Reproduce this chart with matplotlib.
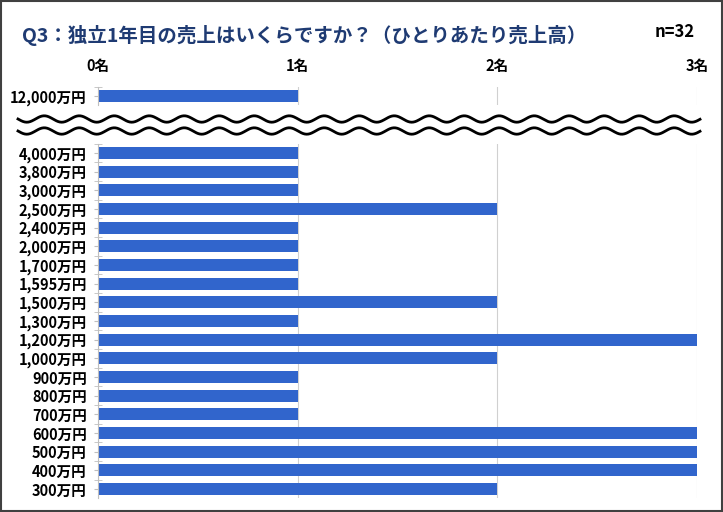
import matplotlib.pyplot as plt
import numpy as np
from matplotlib.patches import Rectangle

plt.rcParams['font.family'] = ['Noto Sans CJK JP', 'DejaVu Sans']

# Data (counts of respondents)
top_labels = ["12,000万円"]
top_counts = [1]

labels = ["4,000万円", "3,800万円", "3,000万円", "2,500万円", "2,400万円",
          "2,000万円", "1,700万円", "1,595万円", "1,500万円", "1,300万円",
          "1,200万円", "1,000万円", "900万円", "800万円", "700万円",
          "600万円", "500万円", "400万円", "300万円"]
counts = [1, 1, 1, 2, 1, 1, 1, 1, 2, 1, 3, 2, 1, 1, 1, 3, 3, 3, 2]

x_ticks = [0, 1, 2, 3]
x_ticklabels = ["0名", "1名", "2名", "3名"]

bar_color = "#3165CC"
grid_color = "#D0D0D0"

W, H = 723, 512
fig = plt.figure(figsize=(W / 100, H / 100), dpi=100)

# Outer frame around the figure
fig.patches.append(Rectangle((0.001, 0.002), 0.997, 0.996, transform=fig.transFigure,
                             fill=False, edgecolor="#404040", linewidth=1.5))

# Title and sample size
fig.text(22 / W, 1 - 35 / H, "Q3：独立1年目の売上はいくらですか？（ひとりあたり売上高）",
         fontsize=14, fontweight="bold", color="#1F3B73", va="center", ha="left")
fig.text(695 / W, 1 - 32 / H, "n=32", fontsize=12, fontweight="bold",
         color="black", va="center", ha="right")

x0, x1 = 98 / W, 697 / W
row = 18.67


def style_axis(ax, n):
    ax.set_xlim(0, 3)
    ax.set_ylim(n - 0.5, -0.5)
    for s in ["top", "right", "bottom"]:
        ax.spines[s].set_visible(False)
    ax.spines["left"].set_color("#BFBFBF")
    ax.set_xticks(x_ticks)
    ax.grid(axis="x", color=grid_color, linewidth=0.8)
    ax.set_axisbelow(True)
    ax.set_yticks(np.arange(n) - 0.5, minor=True)
    ax.tick_params(axis="y", which="minor", length=6, direction="inout", color="#BFBFBF")
    ax.tick_params(axis="y", which="major", length=3, color="#BFBFBF", pad=5)
    for t in ax.get_yticklabels():
        t.set_fontweight("bold")
        t.set_fontsize(10.5)


# Top axis: the outlier
top_b = 1 - (96 + row / 2) / H
ax_top = fig.add_axes([x0, top_b, x1 - x0, row / H])
ax_top.barh(np.arange(len(top_labels)), top_counts, height=0.6, color=bar_color)
ax_top.set_yticks(np.arange(len(top_labels)))
ax_top.set_yticklabels(top_labels)
style_axis(ax_top, len(top_labels))
ax_top.xaxis.tick_top()
ax_top.set_xticklabels(x_ticklabels, fontweight="bold", fontsize=10.5)
ax_top.tick_params(axis="x", length=0, pad=9)

# Main axis
n = len(labels)
main_top = 153 - row / 2
main_bot = 489 + row / 2
ax = fig.add_axes([x0, 1 - main_bot / H, x1 - x0, (main_bot - main_top) / H])
ax.barh(np.arange(n), counts, height=0.65, color=bar_color)
ax.set_yticks(np.arange(n))
ax.set_yticklabels(labels)
style_axis(ax, n)
ax.tick_params(axis="x", length=0, labelbottom=False)

# Wavy break lines
xs = np.linspace(18, 700, 800)
for yc in [119, 131]:
    ys = yc + 3.2 * np.sin(2 * np.pi * (xs - 18) / 35)
    fig.add_artist(plt.Line2D(xs / W, 1 - ys / H, transform=fig.transFigure,
                              color="black", linewidth=2))

fig.savefig("out.png", dpi=100)
